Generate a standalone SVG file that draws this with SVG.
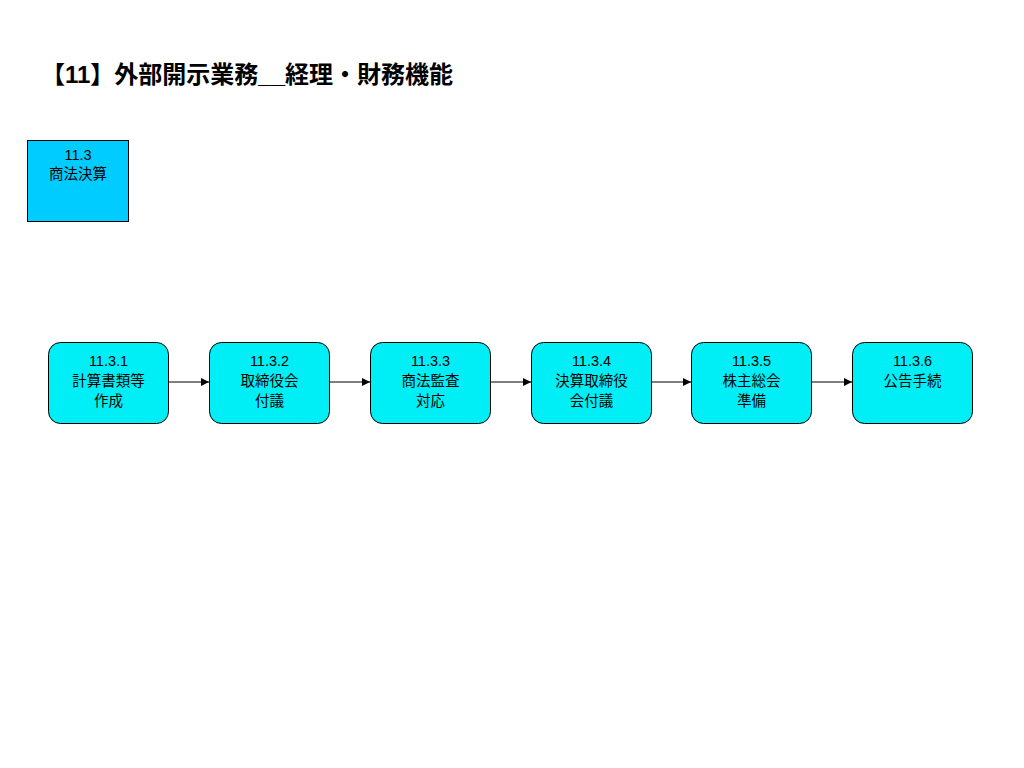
<svg xmlns="http://www.w3.org/2000/svg" width="1024" height="768" viewBox="0 0 1024 768">
<defs>
<style>
.t{font-family:"Liberation Sans","Noto Sans CJK JP",sans-serif;font-size:14.5px;fill:#000;text-anchor:middle}
.title{font-family:"Liberation Sans","Noto Sans CJK JP",sans-serif;font-size:24px;font-weight:bold;fill:#000}
.box{fill:#00EEF6;stroke:#000;stroke-width:1}
.conn{stroke:#000;stroke-width:1.2;fill:none;marker-end:url(#ah)}
</style>
<marker id="ah" markerWidth="8" markerHeight="8" refX="8" refY="4" orient="auto" markerUnits="userSpaceOnUse">
<path d="M0,0 L8,4 L0,8 z" fill="#000"/>
</marker>
</defs>
<rect width="1024" height="768" fill="#fff"/>
<text class="title" x="41" y="83">【11】外部開示業務__経理・財務機能</text>
<g id="n11_3">
<rect x="27.5" y="140.5" width="101" height="81" fill="#00CCFF" stroke="#000" stroke-width="1"/>
<text class="t" x="78" y="160">11.3</text>
<text class="t" x="78" y="179">商法決算</text>
</g>
<g id="connectors">
<line class="conn" x1="169" y1="382" x2="209" y2="382"/>
<line class="conn" x1="330" y1="382" x2="370" y2="382"/>
<line class="conn" x1="491" y1="382" x2="531" y2="382"/>
<line class="conn" x1="651" y1="382" x2="691" y2="382"/>
<line class="conn" x1="812" y1="382" x2="852" y2="382"/>
</g>
<g id="n11_3_1">
<rect class="box" x="48.5" y="342.5" width="120" height="81" rx="12"/>
<text class="t" x="108.5" y="366">11.3.1</text>
<text class="t" x="108.5" y="386">計算書類等</text>
<text class="t" x="108.5" y="406">作成</text>
</g>
<g id="n11_3_2">
<rect class="box" x="209.5" y="342.5" width="120" height="81" rx="12"/>
<text class="t" x="269.5" y="366">11.3.2</text>
<text class="t" x="269.5" y="386">取締役会</text>
<text class="t" x="269.5" y="406">付議</text>
</g>
<g id="n11_3_3">
<rect class="box" x="370.5" y="342.5" width="120" height="81" rx="12"/>
<text class="t" x="430.5" y="366">11.3.3</text>
<text class="t" x="430.5" y="386">商法監査</text>
<text class="t" x="430.5" y="406">対応</text>
</g>
<g id="n11_3_4">
<rect class="box" x="531.5" y="342.5" width="120" height="81" rx="12"/>
<text class="t" x="591.5" y="366">11.3.4</text>
<text class="t" x="591.5" y="386">決算取締役</text>
<text class="t" x="591.5" y="406">会付議</text>
</g>
<g id="n11_3_5">
<rect class="box" x="691.5" y="342.5" width="120" height="81" rx="12"/>
<text class="t" x="751.5" y="366">11.3.5</text>
<text class="t" x="751.5" y="386">株主総会</text>
<text class="t" x="751.5" y="406">準備</text>
</g>
<g id="n11_3_6">
<rect class="box" x="852.5" y="342.5" width="120" height="81" rx="12"/>
<text class="t" x="912.5" y="366">11.3.6</text>
<text class="t" x="912.5" y="386">公告手続</text>
</g>
</svg>
